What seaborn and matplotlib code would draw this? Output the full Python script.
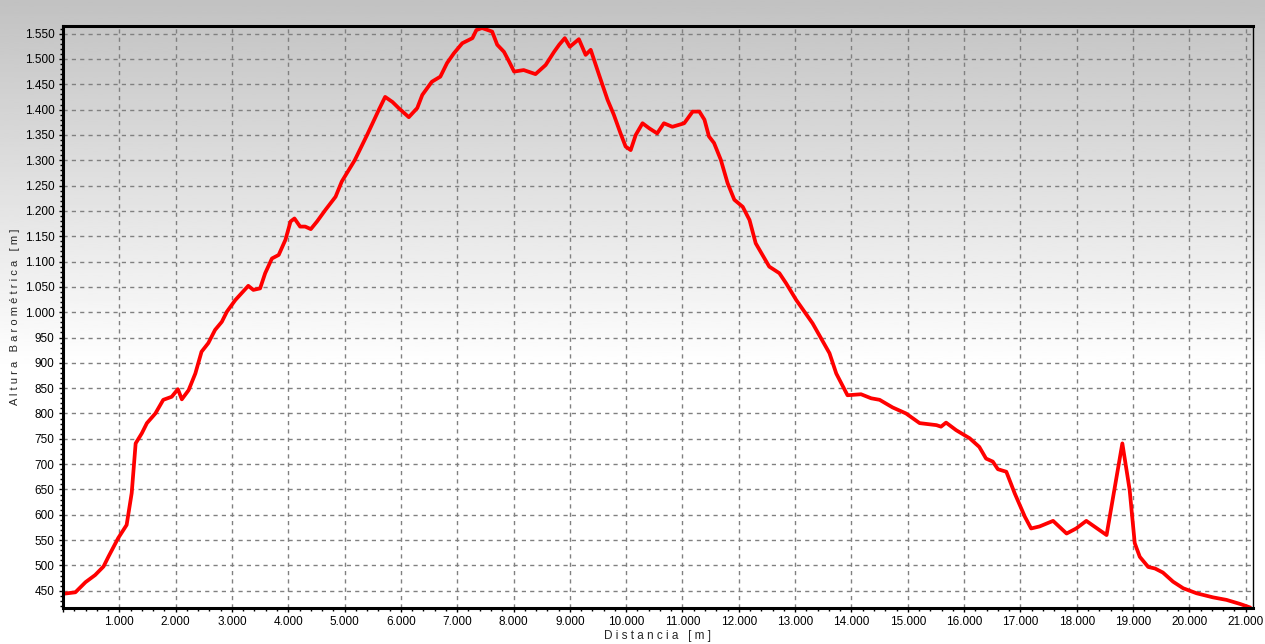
import numpy as np
import pandas as pd
import matplotlib
matplotlib.use("Agg")
import matplotlib.pyplot as plt
import seaborn as sns
from matplotlib.ticker import MultipleLocator, FuncFormatter

# distance (km) and barometric altitude (m)
dist_km = [0.00, 0.22, 0.40, 0.57, 0.72, 0.81, 0.98, 1.13, 1.22, 1.29,
           1.40, 1.49, 1.64, 1.78, 1.93, 2.04, 2.11, 2.23, 2.35, 2.46,
           2.58, 2.70, 2.82, 2.91, 3.06, 3.29, 3.38, 3.50, 3.59, 3.71,
           3.83, 3.95, 4.04, 4.11, 4.21, 4.30, 4.40, 4.51, 4.66, 4.84,
           4.95, 5.18, 5.40, 5.61, 5.72, 5.85, 5.96, 6.14, 6.29, 6.38,
           6.55, 6.70, 6.82, 6.94, 7.09, 7.27, 7.34, 7.44, 7.62, 7.71,
           7.83, 7.92, 8.01, 8.18, 8.39, 8.57, 8.72, 8.81, 8.91, 9.00,
           9.16, 9.28, 9.37, 9.52, 9.67, 9.78, 9.90, 9.99, 10.08, 10.17,
           10.29, 10.41, 10.55, 10.67, 10.82, 11.03, 11.18, 11.30, 11.39, 11.47,
           11.56, 11.68, 11.80, 11.92, 12.07, 12.19, 12.30, 12.54, 12.72, 12.84,
           13.02, 13.31, 13.61, 13.73, 13.93, 14.17, 14.35, 14.50, 14.73, 14.97,
           15.21, 15.51, 15.59, 15.68, 15.86, 16.10, 16.27, 16.39, 16.51, 16.60,
           16.75, 16.90, 17.08, 17.19, 17.34, 17.58, 17.82, 17.99, 18.17, 18.35,
           18.53, 18.81, 18.94, 19.03, 19.12, 19.27, 19.39, 19.53, 19.71, 19.89,
           20.13, 20.42, 20.66, 20.90, 21.08]
altitude = [444, 447, 467, 481, 498, 518, 554, 580, 643, 741,
            761, 781, 800, 827, 833, 848, 828, 846, 879, 922,
            939, 965, 981, 1001, 1024, 1052, 1044, 1047, 1077, 1106,
            1113, 1143, 1179, 1185, 1169, 1169, 1164, 1179, 1202, 1228,
            1258, 1300, 1350, 1400, 1425, 1415, 1403, 1385, 1403, 1429,
            1455, 1465, 1492, 1511, 1531, 1541, 1557, 1561, 1554, 1528,
            1514, 1495, 1475, 1478, 1470, 1488, 1514, 1528, 1541, 1524,
            1539, 1508, 1518, 1468, 1419, 1390, 1353, 1327, 1320, 1350,
            1373, 1363, 1353, 1373, 1366, 1373, 1396, 1396, 1380, 1347,
            1334, 1301, 1255, 1222, 1208, 1182, 1136, 1090, 1077, 1057,
            1024, 978, 919, 879, 836, 838, 830, 827, 812, 800,
            781, 777, 774, 782, 767, 751, 734, 711, 705, 690,
            685, 642, 596, 573, 577, 588, 563, 573, 588, 574,
            560, 741, 649, 544, 517, 497, 494, 486, 468, 455,
            445, 437, 432, 424, 417]

df = pd.DataFrame({"Distancia": np.array(dist_km) * 1000, "Altura": altitude})

sns.set_style("ticks")
plt.rcParams["font.family"] = ["Liberation Sans", "DejaVu Sans"]

fig = plt.figure(figsize=(12.65, 6.44), dpi=100)

# grey-to-white background behind everything
bg = fig.add_axes([0, 0, 1, 1], zorder=-1)
grad = np.clip(np.linspace(0.76, 1.18, 256), 0, 1).reshape(-1, 1)
bg.imshow(grad, aspect="auto", cmap="gray", vmin=0, vmax=1, extent=[0, 1, 0, 1], origin="upper")
bg.axis("off")

ax = fig.add_axes([63 / 1265, 36 / 644, 1190 / 1265, 582 / 644])
ax.set_facecolor("none")

sns.lineplot(data=df, x="Distancia", y="Altura", ax=ax, color="#ff0000", lw=2.7, sort=False)

ax.set_xlim(0, 21130)
ax.set_ylim(416, 1565)

ax.xaxis.set_major_locator(MultipleLocator(1000))
ax.xaxis.set_minor_locator(MultipleLocator(200))
ax.yaxis.set_major_locator(MultipleLocator(50))
ax.yaxis.set_minor_locator(MultipleLocator(10))

def fmt_thousands(v, pos):
    if v <= 0:
        return ""
    return f"{int(round(v)):,}".replace(",", ".")

ax.xaxis.set_major_formatter(FuncFormatter(fmt_thousands))
ax.yaxis.set_major_formatter(FuncFormatter(fmt_thousands))

ax.tick_params(which="major", direction="out", length=3, width=1, labelsize=8.5, colors="black", pad=3)
ax.tick_params(which="minor", direction="out", length=2, width=1, color="black")

ax.grid(True, which="major", color="#808080", linestyle=(0, (3, 3)), linewidth=1)
ax.set_axisbelow(True)

for side in ["left", "bottom", "top"]:
    ax.spines[side].set_linewidth(2.2)
    ax.spines[side].set_color("black")
ax.spines["right"].set_linewidth(1)
ax.spines["right"].set_color("black")

ax.set_xlabel("D i s t a n c i a   [ m ]", fontsize=8.5, labelpad=1)
ax.set_ylabel("A l t u r a   B a r o m é t r i c a   [ m ]", fontsize=8)
ax.yaxis.set_label_coords(-0.036, 0.5)

fig.savefig("out.png", dpi=100)
